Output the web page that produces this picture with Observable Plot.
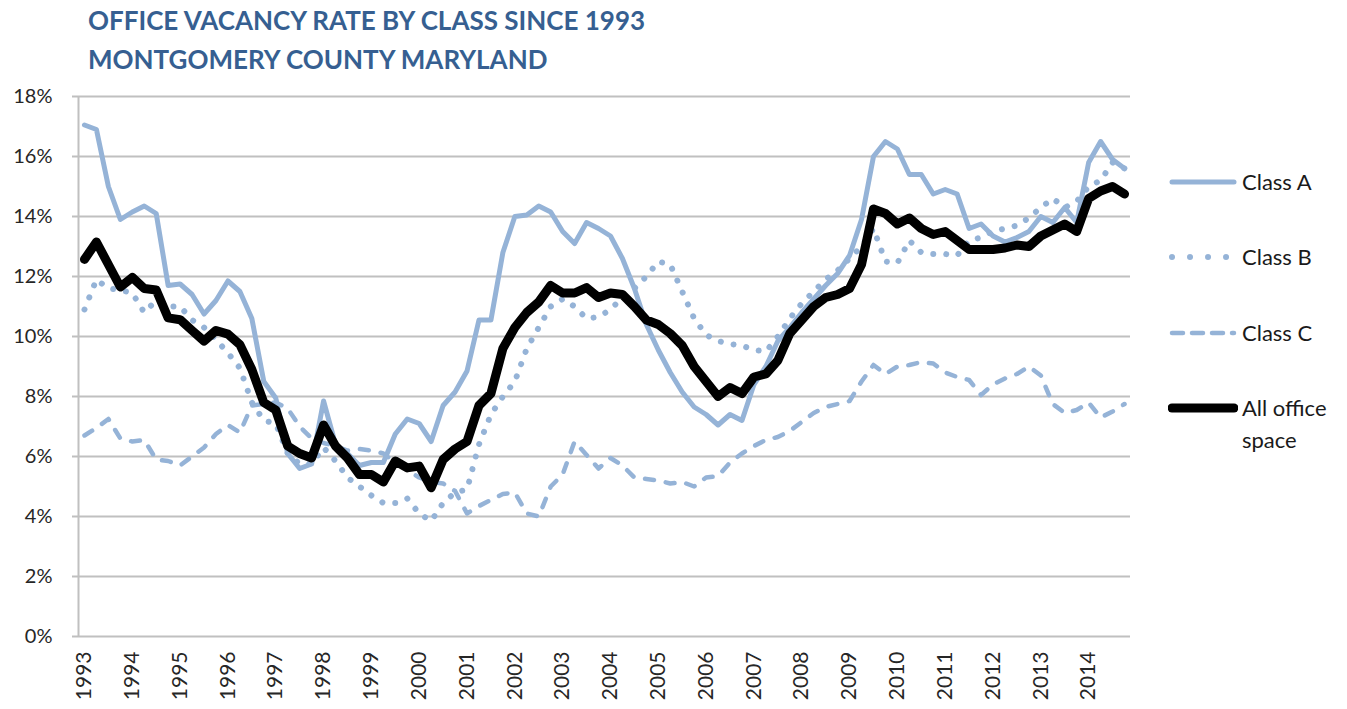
<!DOCTYPE html>
<html>
<head>
<meta charset="utf-8">
<script src="https://cdn.jsdelivr.net/npm/d3@7"></script>
<script src="https://cdn.jsdelivr.net/npm/@observablehq/plot@0.6"></script>
<style>
  html, body { margin: 0; padding: 0; background: #fff; }
  body { width: 1347px; height: 709px; overflow: hidden; position: relative; font-family: Lato, sans-serif; }
  #title { height: 84px; box-sizing: border-box; padding: 1px 0 0 88px; font: 700 26px/39px Lato, sans-serif; color: #365F91; white-space: nowrap; }
  #chart svg { display: block; }
  #chart g[aria-label="y-axis tick"] { stroke: #bfbfbf; }
  #legend { position: absolute; left: 1168px; top: 0; }
  .item { position: absolute; left: 0; display: flex; align-items: flex-start; white-space: nowrap; }
  .item svg { display: block; flex: none; }
  .item span { margin-left: 4px; font: 400 22px/32px Lato, sans-serif; color: #1a1a1a; }
</style>
</head>
<body>
<div id="title"><div>OFFICE VACANCY RATE BY CLASS SINCE 1993</div><div>MONTGOMERY COUNTY MARYLAND</div></div>
<div id="chart"></div>
<div id="legend"></div>
<script>
// Quarterly vacancy rates (%), 1993 Q1 – 2014 Q4
const years = [1993, 1994, 1995, 1996, 1997, 1998, 1999, 2000, 2001, 2002, 2003,
               2004, 2005, 2006, 2007, 2008, 2009, 2010, 2011, 2012, 2013, 2014];

const classA = [
  17.05, 16.9, 15.0, 13.9,   14.15, 14.35, 14.1, 11.7,   11.75, 11.4, 10.75, 11.2,
  11.85, 11.5, 10.6, 8.5,    7.95, 6.1, 5.6, 5.75,       7.85, 6.4, 6.1, 5.7,
  5.8, 5.8, 6.75, 7.25,      7.1, 6.5, 7.7, 8.15,        8.85, 10.55, 10.55, 12.8,
  14.0, 14.05, 14.35, 14.15, 13.5, 13.1, 13.8, 13.6,     13.35, 12.6, 11.6, 10.4,
  9.55, 8.8, 8.15, 7.65,     7.4, 7.05, 7.4, 7.2,        8.4, 9.0, 9.85, 10.3,
  10.8, 11.25, 11.7, 12.1,   12.7, 13.9, 16.0, 16.5,     16.25, 15.4, 15.4, 14.75,
  14.9, 14.75, 13.6, 13.75,  13.35, 13.15, 13.3, 13.5,   14.0, 13.8, 14.3, 13.8,
  15.8, 16.5, 15.9, 15.6
];

const classB = [
  10.9, 11.9, 11.6, 11.55,   11.45, 10.8, 11.2, 11.0,    11.0, 10.55, 10.3, 9.9,
  9.45, 8.95, 7.8, 7.2,      7.1, 6.1, 5.75, 5.75,       6.3, 5.85, 5.3, 5.0,
  4.7, 4.45, 4.45, 4.6,      4.1, 3.85, 4.45, 4.8,       4.9, 6.4, 7.4, 8.0,
  8.5, 9.6, 10.3, 11.0,      11.25, 11.0, 10.6, 10.65,   10.9, 11.3, 11.6, 12.0,
  12.5, 12.4, 11.5, 10.6,    10.05, 9.85, 9.75, 9.7,     9.55, 9.5, 10.0, 10.6,
  11.1, 11.5, 11.9, 12.2,    12.6, 13.0, 13.6, 12.5,     12.45, 13.2, 12.8, 12.75,
  12.75, 12.7, 13.2, 13.3,   13.5, 13.6, 13.7, 13.95,    14.3, 14.6, 14.3, 14.5,
  15.0, 15.2, 15.8, 15.6
];

const classC = [
  6.7, 6.95, 7.25, 6.6,      6.5, 6.55, 5.9, 5.85,       5.7, 6.0, 6.3, 6.75,
  7.05, 6.8, 7.7, 7.75,      7.8, 7.6, 7.0, 6.6,         6.45, 6.35, 6.2, 6.25,
  6.2, 6.1, 5.8, 5.55,       5.3, 5.15, 5.1, 4.85,       4.1, 4.35, 4.55, 4.75,
  4.8, 4.1, 4.0, 5.0,        5.4, 6.5, 6.05, 5.6,        5.95, 5.7, 5.3, 5.25,
  5.2, 5.1, 5.15, 5.0,       5.3, 5.35, 5.8, 6.1,        6.35, 6.55, 6.65, 6.85,
  7.15, 7.45, 7.65, 7.75,    7.85, 8.5, 9.05, 8.75,      9.0, 9.05, 9.15, 9.1,
  8.8, 8.65, 8.55, 8.05,     8.4, 8.6, 8.75, 9.0,        8.7, 7.75, 7.45, 7.55,
  7.8, 7.3, 7.5, 7.75
];

const allOffice = [
  12.57, 13.15, 12.4, 11.65, 11.97, 11.6, 11.55, 10.62,  10.56, 10.2, 9.85, 10.2,
  10.08, 9.73, 8.9, 7.8,     7.55, 6.35, 6.1, 5.95,      7.05, 6.35, 5.95, 5.4,
  5.4, 5.15, 5.85, 5.62,     5.68, 4.96, 5.9, 6.25,      6.5, 7.7, 8.1, 9.6,
  10.3, 10.8, 11.15, 11.7,   11.45, 11.45, 11.63, 11.3,  11.45, 11.4, 11.0, 10.55,
  10.4, 10.1, 9.7, 9.0,      8.5, 8.0, 8.3, 8.1,         8.65, 8.75, 9.2, 10.1,
  10.55, 11.0, 11.3, 11.4,   11.6, 12.4, 14.25, 14.1,    13.75, 13.95, 13.6, 13.4,
  13.5, 13.2, 12.9, 12.9,    12.9, 12.95, 13.05, 13.0,   13.35, 13.55, 13.75, 13.5,
  14.6, 14.85, 15.0, 14.75
];

const yTicks = [0, 2, 4, 6, 8, 10, 12, 14, 16, 18];
const seriesNames = ["Class A", "Class B", "Class C", "All office space"];

const lightBlue = "#95B3D7";
const styles = {
  "Class A": {stroke: lightBlue, strokeWidth: 5, strokeLinecap: "round", strokeLinejoin: "round"},
  "Class B": {stroke: lightBlue, strokeWidth: 6, strokeDasharray: "0.01 13", strokeLinecap: "round", strokeLinejoin: "round"},
  "Class C": {stroke: lightBlue, strokeWidth: 4.5, strokeDasharray: "9 12", strokeLinecap: "round", strokeLinejoin: "round"},
  "All office space": {stroke: "#000", strokeWidth: 9, strokeLinecap: "round", strokeLinejoin: "round"}
};

const n = classA.length;
const xDomain = [-0.5, n - 0.5];
const yearTicks = years.map((y, k) => ({i: k * 4, label: String(y)}));

const chart = Plot.plot({
  width: 1150,
  height: 625,
  marginLeft: 78,
  marginRight: 20,
  marginTop: 12,
  marginBottom: 73,
  style: {fontFamily: "Lato, sans-serif", fontSize: "20px", color: "#262626", background: "#fff"},
  x: {type: "linear", domain: xDomain, axis: null},
  y: {domain: [yTicks[0], yTicks[yTicks.length - 1]], axis: null},
  marks: [
    Plot.ruleY(yTicks, {stroke: "#c0c0c0", strokeWidth: 2}),
    Plot.ruleX([xDomain[0]], {stroke: "#c0c0c0", strokeWidth: 2}),
    Plot.axisY(yTicks, {tickSize: 6, tickPadding: 20, tickFormat: d => d + "%", fontSize: 20, strokeWidth: 2}),
    Plot.text(yearTicks, {x: "i", text: "label", frameAnchor: "bottom", dy: 15, rotate: -90,
      textAnchor: "end", lineAnchor: "middle", fontSize: 21, fill: "#262626"}),
    Plot.lineY(classA, styles["Class A"]),
    Plot.lineY(classB, styles["Class B"]),
    Plot.lineY(classC, styles["Class C"]),
    Plot.lineY(allOffice, styles["All office space"])
  ]
});
document.getElementById("chart").appendChild(chart);

// Legend
const legend = document.getElementById("legend");
const ns = "http://www.w3.org/2000/svg";
seriesNames.forEach((name, k) => {
  const item = document.createElement("div");
  item.className = "item";
  item.style.top = (166 + k * 75.4) + "px";
  const sw = document.createElementNS(ns, "svg");
  sw.setAttribute("width", 70);
  sw.setAttribute("height", 32);
  const ln = document.createElementNS(ns, "line");
  ln.setAttribute("x1", 4); ln.setAttribute("x2", 66);
  ln.setAttribute("y1", 16); ln.setAttribute("y2", 16);
  const s = styles[name];
  ln.setAttribute("stroke", s.stroke);
  ln.setAttribute("stroke-width", s.strokeWidth);
  ln.setAttribute("stroke-linecap", s.strokeLinecap);
  if (s.strokeDasharray) ln.setAttribute("stroke-dasharray", name === "Class B" ? "0.01 18" : "11 9");
  sw.appendChild(ln);
  item.appendChild(sw);
  const label = document.createElement("span");
  if (name === "All office space") {
    label.innerHTML = "All office<br>space";
  } else {
    label.textContent = name;
  }
  item.appendChild(label);
  legend.appendChild(item);
});
</script>
</body>
</html>
